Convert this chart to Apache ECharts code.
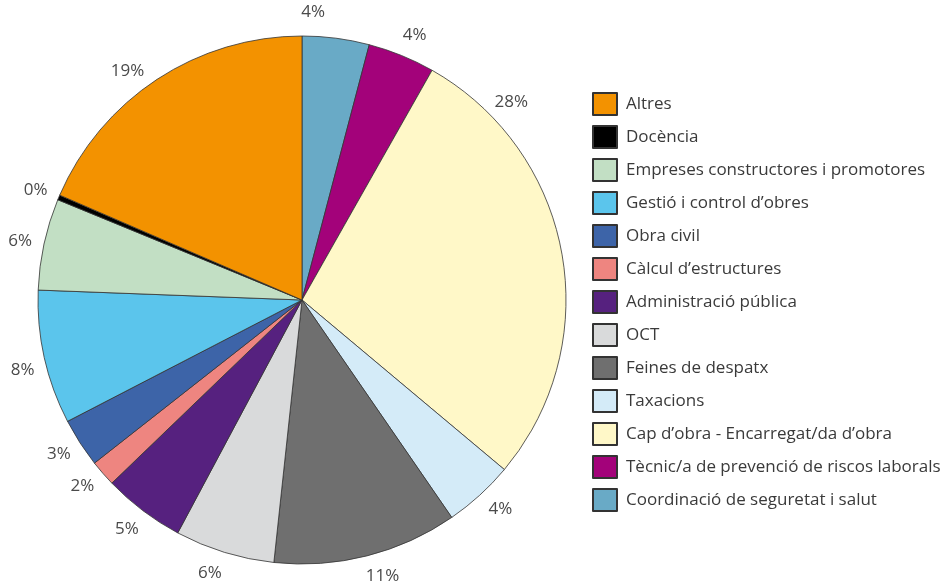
<!DOCTYPE html>
<html>
<head>
<meta charset="utf-8">
<script src="https://cdn.jsdelivr.net/npm/echarts@6/dist/echarts.min.js"></script>
<style>
  html, body { margin: 0; padding: 0; background: #fff; }
  #chart { width: 947px; height: 586px; }
</style>
</head>
<body>
<div id="chart"></div>
<script>
// slices clockwise from 12 o'clock
const categories = [
  'Coordinació de seguretat i salut',
  'Tècnic/a de prevenció de riscos laborals',
  'Cap d’obra - Encarregat/da d’obra',
  'Taxacions',
  'Feines de despatx',
  'OCT',
  'Administració pública',
  'Càlcul d’estructures',
  'Obra civil',
  'Gestió i control d’obres',
  'Empreses constructores i promotores',
  'Docència',
  'Altres'
]
const values = [4.1, 4.1, 27.9, 4.3, 11.3, 6.1, 5.0, 1.6, 3.0, 8.2, 5.6, 0.3, 18.5]
const labels = ['4%', '4%', '28%', '4%', '11%', '6%', '5%', '2%', '3%', '8%', '6%', '0%', '19%']
const colors = ['#69AAC6', '#A3027A', '#FFF8C8', '#D4EBF8', '#6F6F6F', '#D9DADB',
  '#56217F', '#EE8580', '#3D64A8', '#5BC5EC', '#C2DFC4', '#000000', '#F39200']
// where the label sits along its slice (0 = start, 0.5 = middle)
const labelSpot = [0.15, 0.56, 0.17, 0.42, 0.45, 0.57, 0.52, 0.62, 0.53, 0.45, 0.48, 0, 0.44]

const cx = 302
const cy = 300
const r = 264
const labelR = 288

const total = values.reduce((a, b) => a + b, 0)
const starts = []
values.reduce((acc, v) => { starts.push(acc); return acc + v }, 0)

const chart = echarts.init(document.getElementById('chart'))

const option = {
  backgroundColor: '#fff',
  animation: false,
  legend: {
    orient: 'vertical',
    left: 587,
    top: 87,
    icon: 'rect',
    itemWidth: 24,
    itemHeight: 22,
    itemGap: 9,
    data: categories.slice().reverse(),
    textStyle: {
      color: '#3a3a3a',
      fontSize: 17,
      lineHeight: 22,
      fontFamily: 'Open Sans',
      padding: [0, 0, 0, 4]
    }
  },
  series: [
    {
      type: 'pie',
      center: [cx, cy],
      radius: r,
      startAngle: 90,
      clockwise: true,
      minAngle: 0,
      avoidLabelOverlap: false,
      itemStyle: {
        borderColor: '#333',
        borderWidth: 0.8
      },
      label: {
        show: true,
        position: 'outside',
        formatter: (p) => labels[p.dataIndex],
        color: '#4a4a4a',
        fontSize: 17,
        fontFamily: 'Open Sans'
      },
      labelLine: {
        show: false
      },
      labelLayout: (p) => {
        const i = p.dataIndex
        const frac = (starts[i] + values[i] * labelSpot[i]) / total
        const a = frac * Math.PI * 2
        return {
          x: cx + labelR * Math.sin(a),
          y: cy - labelR * Math.cos(a),
          align: 'center',
          verticalAlign: 'middle'
        }
      },
      data: categories.map((name, i) => ({
        name,
        value: values[i],
        itemStyle: { color: colors[i] }
      }))
    }
  ]
}

chart.setOption(option)
</script>
</body>
</html>
